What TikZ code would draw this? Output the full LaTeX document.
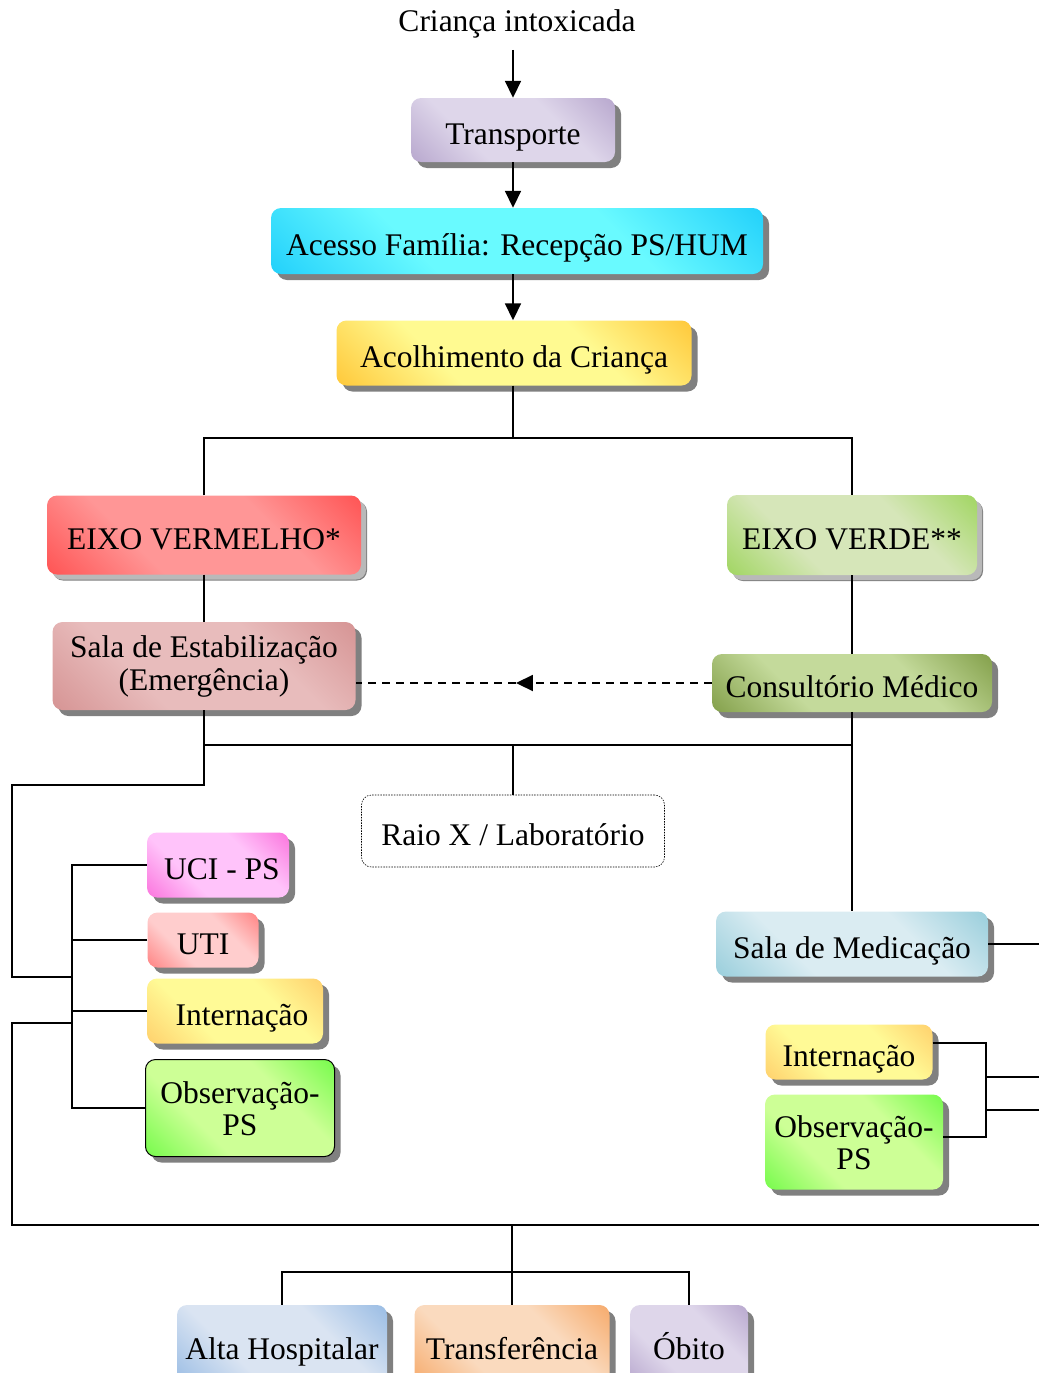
\documentclass[tikz,border=0pt]{standalone}
\usepackage{fontspec}
\setmainfont{Liberation Serif}
\usetikzlibrary{arrows.meta,shadows,decorations.markings}
\definecolor{lilasA}{RGB}{176,158,200}
\definecolor{lilasB}{RGB}{222,214,234}
\definecolor{cianoA}{RGB}{20,200,250}
\definecolor{cianoB}{RGB}{105,250,255}
\definecolor{ouroA}{RGB}{255,190,40}
\definecolor{ouroB}{RGB}{255,250,145}
\definecolor{vermA}{RGB}{255,70,70}
\definecolor{vermB}{RGB}{255,150,150}
\definecolor{verdeA}{RGB}{150,210,80}
\definecolor{verdeB}{RGB}{214,230,185}
\definecolor{rosaA}{RGB}{210,140,140}
\definecolor{rosaB}{RGB}{232,188,188}
\definecolor{olivaA}{RGB}{118,148,58}
\definecolor{olivaB}{RGB}{196,218,155}
\definecolor{magentaA}{RGB}{250,100,215}
\definecolor{magentaB}{RGB}{255,195,250}
\definecolor{salmaoA}{RGB}{255,115,115}
\definecolor{salmaoB}{RGB}{255,205,205}
\definecolor{laranjaA}{RGB}{255,200,100}
\definecolor{laranjaB}{RGB}{255,250,150}
\definecolor{limaA}{RGB}{100,250,60}
\definecolor{limaB}{RGB}{205,255,150}
\definecolor{azulA}{RGB}{140,200,215}
\definecolor{azulB}{RGB}{218,236,242}
\definecolor{celesteA}{RGB}{140,180,225}
\definecolor{celesteB}{RGB}{218,228,242}
\definecolor{pessegoA}{RGB}{245,160,90}
\definecolor{pessegoB}{RGB}{250,218,190}
\definecolor{sombra}{RGB}{128,128,128}
% corner shading: dark at two corners, light in the middle
\makeatletter
\pgfdeclareverticalshading[tikz@axis@top,tikz@axis@middle,tikz@axis@bottom]{canto}{100bp}{%
  color(0bp)=(tikz@axis@bottom); color(10bp)=(tikz@axis@bottom);
  color(36bp)=(tikz@axis@middle); color(64bp)=(tikz@axis@middle);
  color(90bp)=(tikz@axis@top); color(100bp)=(tikz@axis@top)}
\makeatother
\tikzset{
  base/.style={rounded corners=10pt, inner sep=4pt, align=center,
    drop shadow={shadow xshift=6pt, shadow yshift=-6pt, fill=sombra, opacity=1}},
  caixa/.style={base, text height=34pt, text depth=6pt},
  caixaclara/.style={caixa, drop shadow={shadow xshift=5pt, shadow yshift=-5pt, fill=sombra!55, opacity=1}},
  degrade/.style 2 args={top color=#1, bottom color=#1, middle color=#2, shading=canto, shading angle=-45},
  liga/.style={line width=1.8pt},
  seta/.style={liga, -{Triangle[length=17pt,width=16pt]}},
  setameio/.style={liga, dash pattern=on 8pt off 6pt, postaction={decorate},
    decoration={markings, mark=at position 0.55 with {\arrow{Triangle[length=17pt,width=16pt]}}}},
}
\begin{document}
\begin{tikzpicture}[x=1pt, y=-1pt, font=\fontsize{31.5}{35}\selectfont]
    % Page area
    \useasboundingbox (0,0) rectangle (1039,1373);

    % Entry
    \node (titulo) at (517,24) {Criança intoxicada};
    \node[caixa, degrade={lilasA}{lilasB}, minimum width=204, minimum height=64] (transp) at (513,130) {Transporte};
    \node[caixa, degrade={cianoA}{cianoB}, minimum width=492, minimum height=66] (acesso) at (517,241) {Acesso Família: Recepção PS/HUM};
    \node[caixa, degrade={ouroA}{ouroB}, minimum width=355, minimum height=65] (acolh) at (514,353) {Acolhimento da Criança};

    % Two axes
    \node[caixaclara, degrade={vermA}{vermB}, minimum width=314, minimum height=79] (verm) at (204,535) {EIXO VERMELHO*};
    \node[caixaclara, degrade={verdeA}{verdeB}, minimum width=250, minimum height=80] (verde) at (852,535) {EIXO VERDE**};
    \node[base, degrade={rosaA}{rosaB}, minimum width=303, minimum height=88] (estab) at (204,666) {Sala de Estabilização\\[-2pt](Emergência)};
    \node[caixa, degrade={olivaA}{olivaB}, minimum width=280, minimum height=58] (consult) at (852,683) {Consultório Médico};
    \node[draw, rounded corners=10pt, line width=0.6pt, dash pattern=on 1.5pt off 1.2pt, text height=34pt, text depth=6pt, minimum width=303, minimum height=72] (raiox) at (513,831) {Raio X / Laboratório};
    \node[caixa, degrade={azulA}{azulB}, minimum width=272, minimum height=65] (medic) at (852,944) {Sala de Medicação};

    % Left destinations
    \node[caixa, degrade={magentaA}{magentaB}, minimum width=142, minimum height=65] (uci) at (218,865) {\hspace*{8pt}UCI - PS};
    \node[caixa, degrade={salmaoA}{salmaoB}, minimum width=111, minimum height=55] (uti) at (203,940) {UTI};
    \node[caixa, degrade={laranjaA}{laranjaB}, minimum width=176, minimum height=65] (intern) at (235,1011) {\hspace*{14pt}Internação};
    \node[base, degrade={limaA}{limaB}, draw=black, line width=1pt, minimum width=189, minimum height=97] (observ) at (240,1108) {\raisebox{0pt}[24pt][6pt]{Observação-}\\[-3pt]PS};

    % Right destinations
    \node[caixa, degrade={laranjaA}{laranjaB}, minimum width=167, minimum height=55] (intern2) at (849,1052) {Internação};
    \node[base, degrade={limaA}{limaB}, minimum width=178, minimum height=95] (observ2) at (854,1142) {\raisebox{0pt}[24pt][6pt]{Observação-}\\[-3pt]PS};

    % Outcomes
    \node[caixa, degrade={celesteA}{celesteB}, minimum width=210, minimum height=80] (alta) at (282,1345) {Alta Hospitalar};
    \node[caixa, degrade={pessegoA}{pessegoB}, minimum width=195, minimum height=80] (transf) at (512,1345) {Transferência};
    \node[caixa, degrade={lilasA}{lilasB}, minimum width=118, minimum height=80] (obito) at (689,1345) {Óbito};

    % Junction points
    \coordinate (ramo) at (513,438);
    \coordinate (cruz) at (513,745);
    \coordinate (desvio) at (12,785);
    \coordinate (chave) at (72,977);
    \coordinate (saida) at (72,1023);
    \coordinate (base) at (12,1225);
    \coordinate (baseD) at (1039,1225);
    \coordinate (fundo) at (512,1225);
    \coordinate (ramo2) at (512,1272);
    \coordinate (direita) at (1039,946);
    \coordinate (chave2) at (986,1077);
    \coordinate (chave3) at (986,1110);

    % Arrows at the top
    \draw[seta, shorten <=8pt] (titulo.south -| transp.north) -- (transp.north);
    \draw[seta] (transp.south) -- (transp.south |- acesso.north);
    \draw[seta] (transp.south |- acesso.south) -- (transp.south |- acolh.north);

    % Split into axes
    \draw[liga] (acolh.south -| ramo) -- (ramo);
    \draw[liga] (verm.north) |- (ramo) -| (verde.north);
    \draw[liga] (verm) -- (estab);
    \draw[liga] (verde) -- (consult);
    \draw[setameio] (consult.west) -- (consult.west -| estab.east);
    \draw[liga] (consult) -- (medic);
    \draw[liga] (estab.south) |- (consult.south |- cruz);
    \draw[liga] (cruz) -- (raiox.north);

    % Left bracket
    \draw[liga] (estab.south |- cruz) |- (desvio) |- (chave);
    \draw[liga] (uci.west) -- (uci.west -| chave) -- (observ.west -| chave) -- (observ.west);
    \draw[liga] (uti.west) -- (uti.west -| chave);
    \draw[liga] (intern.west) -- (intern.west -| chave);
    \draw[liga] (saida) -| (base) -- (baseD);

    % Right bracket
    \draw[liga] (medic.east) -- (medic.east -| direita);
    \draw[liga] ([yshift=9pt]intern2.east) -| (chave2) |- ([yshift=5pt]observ2.east);
    \draw[liga] (chave2) -- (chave2 -| direita);
    \draw[liga] (chave3) -- (chave3 -| direita);

    % Outcomes
    \draw[liga] (fundo) -- (transf.north);
    \draw[liga] (alta.north) |- (ramo2) -| (obito.north);
\end{tikzpicture}
\end{document}
